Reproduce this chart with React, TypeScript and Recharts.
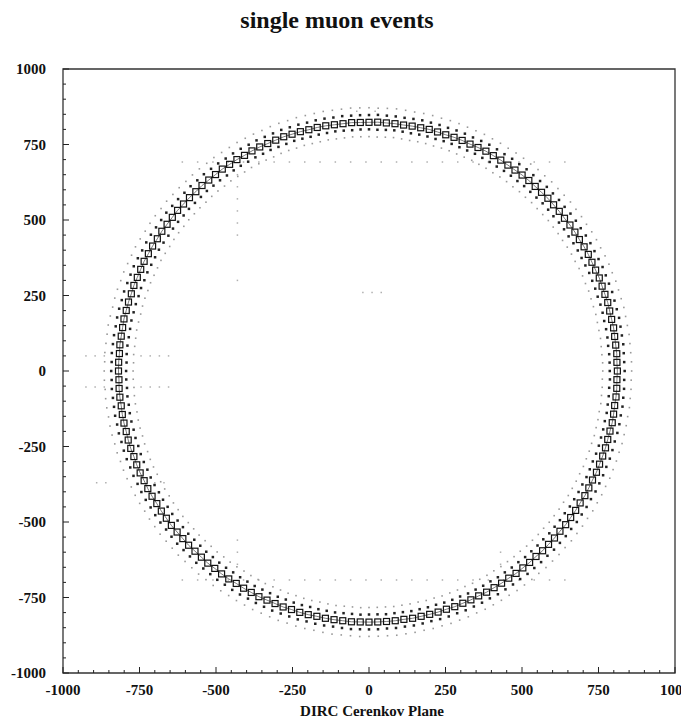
import {
  ScatterChart,
  Scatter,
  XAxis,
  YAxis,
  ReferenceArea,
  RadarChart,
  Radar,
  PolarAngleAxis,
  PolarRadiusAxis,
} from "recharts";

const W = 689;
const H = 728;
const INK = "#222";
const FONT = '"Liberation Serif", "Times New Roman", serif';

// plot box in page pixels
const PLOT_LEFT = 63;
const PLOT_TOP = 69;
const PLOT_RIGHT = 675;
const PLOT_BOTTOM = 673;
const CX = (PLOT_LEFT + PLOT_RIGHT) / 2;
const CY = (PLOT_TOP + PLOT_BOTTOM) / 2;
const R_PX = 304; // 1000 units

const AXIS_TICKS = [
  -1000, -950, -900, -850, -800, -750, -700, -650, -600, -550, -500, -450, -400,
  -350, -300, -250, -200, -150, -100, -50, 0, 50, 100, 150, 200, 250, 300, 350,
  400, 450, 500, 550, 600, 650, 700, 750, 800, 850, 900, 950, 1000,
];
const LABELLED_TICKS = [-1000, -750, -500, -250, 0, 250, 500, 750, 1000];

// ring bins, clockwise from the top, 2 degrees apart
const ANGLES = [
  0, 2, 4, 6, 8, 10, 12, 14, 16, 18, 20, 22, 24, 26, 28, 30, 32, 34, 36, 38,
  40, 42, 44, 46, 48, 50, 52, 54, 56, 58, 60, 62, 64, 66, 68, 70, 72, 74, 76, 78,
  80, 82, 84, 86, 88, 90, 92, 94, 96, 98, 100, 102, 104, 106, 108, 110, 112, 114,
  116, 118, 120, 122, 124, 126, 128, 130, 132, 134, 136, 138, 140, 142, 144, 146,
  148, 150, 152, 154, 156, 158, 160, 162, 164, 166, 168, 170, 172, 174, 176, 178,
  180, 182, 184, 186, 188, 190, 192, 194, 196, 198, 200, 202, 204, 206, 208, 210,
  212, 214, 216, 218, 220, 222, 224, 226, 228, 230, 232, 234, 236, 238, 240, 242,
  244, 246, 248, 250, 252, 254, 256, 258, 260, 262, 264, 266, 268, 270, 272, 274,
  276, 278, 280, 282, 284, 286, 288, 290, 292, 294, 296, 298, 300, 302, 304, 306,
  308, 310, 312, 314, 316, 318, 320, 322, 324, 326, 328, 330, 332, 334, 336, 338,
  340, 342, 344, 346, 348, 350, 352, 354, 356, 358,
];

// radius of the box (square) hits
const RING_R = [
  818, 819, 818, 818, 817, 818, 818, 819, 818, 817, 818, 818, 817, 818, 819, 818, 818, 817, 817, 818,
  818, 817, 817, 818, 817, 817, 816, 817, 817, 816, 817, 817, 816, 816, 817, 816, 816, 817, 816, 816,
  817, 816, 816, 817, 816,
  817, 816, 817, 817, 816, 817, 818, 817, 817, 818, 818, 818, 819, 818, 819, 820, 819, 820, 820, 821,
  820, 821, 821, 822, 821, 822, 822, 823, 822, 823, 823, 824, 823, 824, 824, 825, 824, 825, 825, 825,
  826, 825, 826, 826, 826,
  826, 826, 827, 826, 826, 826, 825, 826, 826, 825, 826, 825, 825, 826, 825, 825, 824, 825, 825, 824,
  825, 824, 824, 825, 824, 824, 825, 824, 824, 823, 824, 824, 823, 824, 824, 823, 824, 824, 823, 824,
  824, 823, 824, 824, 823,
  824, 824, 823, 824, 823, 823, 824, 823, 823, 822, 823, 822, 822, 823, 822, 822, 821, 822, 821, 821,
  822, 821, 821, 820, 821, 820, 820, 821, 820, 820, 819, 820, 820, 819, 819, 820, 819, 819, 818, 819,
  819, 818, 818, 819, 818,
];

// dense dot bins just inside and outside the boxes
const INNER_DARK = [
  795, 794, 795, 796, 795, 794, 795, 795, 794, 795, 795, 794, 794, 795, 794, 794, 793, 794, 794, 793,
  794, 793, 793, 794, 793, 792, 793, 793, 792, 793, 793, 792, 792, 793, 792, 792, 791, 792, 792, 791,
  792, 792, 791, 792, 792,
  792, 793, 792, 793, 793, 794, 793, 794, 794, 795, 795, 794, 795, 796, 795, 796, 796, 797, 796, 797,
  797, 798, 797, 798, 798, 799, 798, 799, 799, 800, 799, 800, 800, 801, 800, 801, 801, 800, 801, 801,
  802, 801, 801, 802, 801,
  801, 802, 801, 801, 802, 801, 801, 800, 801, 801, 800, 801, 800, 800, 801, 800, 800, 799, 800, 800,
  799, 800, 799, 799, 800, 799, 799, 800, 799, 799, 798, 799, 799, 798, 799, 799, 798, 799, 798, 799,
  799, 798, 799, 798, 799,
  799, 798, 799, 799, 798, 798, 799, 798, 798, 797, 798, 797, 798, 797, 797, 798, 797, 796, 797, 797,
  796, 797, 796, 796, 797, 796, 796, 795, 796, 796, 795, 796, 795, 796, 795, 795, 796, 795, 794, 795,
  795, 796, 795, 794, 795,
];
const OUTER_DARK = [
  842, 843, 842, 842, 841, 842, 843, 842, 842, 841, 842, 842, 841, 842, 843, 842, 841, 842, 841, 842,
  841, 841, 842, 841, 841, 840, 841, 841, 840, 841, 841, 840, 840, 841, 840, 840, 841, 840, 840, 841,
  840, 840, 841, 840, 840,
  841, 840, 841, 841, 842, 841, 842, 842, 841, 842, 843, 842, 843, 843, 844, 843, 844, 844, 845, 844,
  845, 845, 846, 845, 846, 846, 847, 846, 847, 847, 848, 847, 848, 848, 849, 848, 849, 849, 848, 849,
  850, 849, 850, 849, 850,
  850, 850, 851, 850, 849, 850, 850, 849, 850, 849, 849, 850, 849, 849, 848, 849, 849, 848, 849, 848,
  848, 849, 848, 848, 849, 848, 847, 848, 848, 847, 848, 848, 847, 848, 847, 848, 848, 847, 848, 847,
  848, 847, 847, 848, 847,
  848, 847, 848, 847, 847, 846, 847, 847, 846, 847, 846, 846, 847, 846, 845, 846, 846, 845, 845, 846,
  845, 845, 844, 845, 844, 845, 844, 844, 843, 844, 844, 843, 844, 843, 843, 844, 843, 843, 842, 843,
  843, 842, 843, 842, 842,
];

// sparse, faint bins at the edges of the band
const INNER_FAINT = [
  771, 770, 771, 772, 771, 770, 771, 771, 770, 771, 771, 770, 770, 771, 770, 770, 769, 770, 770, 769,
  770, 769, 770, 769, 769, 770, 769, 769, 768, 769, 769, 768, 769, 769, 768, 769, 768, 768, 769, 768,
  768, 769, 768, 768, 769,
  769, 768, 769, 769, 770, 769, 770, 770, 771, 770, 771, 771, 772, 771, 772, 772, 773, 772, 773, 773,
  774, 773, 774, 774, 775, 774, 775, 775, 776, 775, 776, 776, 777, 776, 777, 777, 778, 777, 778, 777,
  778, 778, 779, 778, 778,
  778, 779, 778, 778, 779, 778, 777, 778, 778, 777, 778, 777, 777, 778, 777, 777, 776, 777, 777, 776,
  777, 776, 776, 777, 776, 776, 777, 776, 776, 775, 776, 776, 775, 776, 776, 775, 776, 775, 776, 776,
  775, 776, 776, 775, 776,
  776, 775, 776, 775, 775, 776, 775, 774, 775, 775, 774, 775, 774, 774, 775, 774, 773, 774, 774, 773,
  774, 773, 773, 772, 773, 773, 772, 773, 772, 772, 773, 772, 772, 771, 772, 772, 771, 772, 771, 771,
  772, 771, 771, 772, 771,
];
const OUTER_FAINT = [
  866, 865, 866, 867, 866, 865, 866, 866, 865, 866, 866, 865, 865, 866, 865, 865, 864, 865, 865, 864,
  865, 864, 865, 864, 864, 865, 864, 864, 863, 864, 864, 863, 864, 864, 863, 864, 863, 863, 864, 863,
  863, 864, 863, 863, 864,
  864, 863, 864, 864, 865, 864, 865, 865, 866, 865, 866, 866, 867, 866, 867, 867, 868, 867, 868, 868,
  869, 868, 869, 869, 870, 869, 870, 870, 871, 870, 871, 871, 872, 871, 872, 872, 873, 872, 873, 872,
  873, 873, 874, 873, 873,
  873, 874, 873, 873, 874, 873, 872, 873, 873, 872, 873, 872, 872, 873, 872, 872, 871, 872, 872, 871,
  872, 871, 871, 872, 871, 871, 872, 871, 871, 870, 871, 871, 870, 871, 871, 870, 871, 870, 871, 871,
  870, 871, 871, 870, 871,
  871, 870, 871, 870, 870, 871, 870, 869, 870, 870, 869, 870, 869, 869, 870, 869, 868, 869, 869, 868,
  869, 868, 868, 867, 868, 868, 867, 868, 867, 867, 868, 867, 867, 866, 867, 867, 866, 867, 866, 866,
  867, 866, 866, 867, 866,
];

// stray background hits (dotted rows / columns)
const BG_TOP_ROW = [
  [-610, 692], [-560, 692], [-510, 692], [-460, 692], [-410, 692], [-360, 692], [-310, 692],
  [-260, 692], [-210, 692], [-160, 692], [-110, 692], [-60, 692], [-10, 692], [40, 692],
  [90, 692], [140, 692], [190, 692], [240, 692], [290, 692], [340, 692], [390, 692],
  [440, 692], [490, 692], [540, 692], [590, 692], [640, 692],
];
const BG_BOTTOM_ROW = [
  [-610, -692], [-560, -692], [-510, -692], [-460, -692], [-410, -692], [-360, -692],
  [-310, -692], [-260, -692], [-210, -692], [-160, -692], [-110, -692], [-60, -692],
  [-10, -692], [40, -692], [90, -692], [140, -692], [190, -692], [240, -692], [290, -692],
  [340, -692], [390, -692], [440, -692], [490, -692], [540, -692], [590, -692], [640, -692],
];
const BG_COLUMN = [
  [-430, 650], [-430, 610], [-430, 570], [-430, 530], [-430, 490], [-430, 450], [-430, 300],
  [-430, -560], [-430, -600], [-430, -640], [430, -600], [430, -640],
];
const BG_LEFT_ROWS = [
  [-925, 50], [-895, 50], [-865, 50], [-745, 50], [-715, 50], [-685, 50], [-655, 50],
  [-925, -53], [-895, -53], [-865, -53], [-745, -53], [-715, -53], [-685, -53], [-655, -53],
  [-890, -370], [-860, -370], [-700, -370], [-670, -370],
  [-20, 260], [10, 260], [40, 260], [-40, 860], [20, 860],
];

const BG_POINTS = [...BG_TOP_ROW, ...BG_BOTTOM_ROW, ...BG_COLUMN, ...BG_LEFT_ROWS].map(
  ([x, y]) => ({ x, y })
);

const RING_DATA = ANGLES.map((angle, i) => ({
  angle,
  ring: RING_R[i],
  innerDark: INNER_DARK[i],
  outerDark: OUTER_DARK[i],
  innerFaint: INNER_FAINT[i],
  outerFaint: OUTER_FAINT[i],
}));

const boxDot = (p: any) => (
  <rect
    key={`b${p.index}`}
    x={p.cx - 3}
    y={p.cy - 3}
    width={6}
    height={6}
    fill="none"
    stroke="#111"
    strokeWidth={1.2}
  />
);
const darkDot = (p: any) => (
  <rect key={`d${p.index}`} x={p.cx - 1.25} y={p.cy - 1.25} width={2.5} height={2.5} fill="#222" />
);
const faintDot = (p: any) => (
  <rect key={`f${p.index}`} x={p.cx - 0.8} y={p.cy - 0.8} width={1.6} height={1.6} fill="#999" />
);

const XTick = (props: any) => {
  const { x, y, payload } = props;
  const major = LABELLED_TICKS.includes(payload.value);
  return (
    <g>
      <line x1={x} y1={y} x2={x} y2={y - (major ? 6 : 3)} stroke={INK} strokeWidth={1} />
      {major && (
        <text x={x} y={y + 22} textAnchor="middle" fontFamily={FONT} fontWeight="bold" fontSize={15} fill="#111">
          {payload.value}
        </text>
      )}
    </g>
  );
};

const YTick = (props: any) => {
  const { x, y, payload } = props;
  const major = LABELLED_TICKS.includes(payload.value);
  return (
    <g>
      <line x1={x} y1={y} x2={x + (major ? 6 : 3)} y2={y} stroke={INK} strokeWidth={1} />
      {major && (
        <text x={x - 17} y={y + 5} textAnchor="end" fontFamily={FONT} fontWeight="bold" fontSize={15} fill="#111">
          {payload.value}
        </text>
      )}
    </g>
  );
};

export default function App() {
  return (
    <div style={{ position: "relative", width: W, height: H, margin: -8, background: "#fff" }}>
      <div
        style={{
          position: "absolute",
          left: 237,
          top: 7,
          width: 200,
          textAlign: "center",
          fontFamily: FONT,
          fontWeight: "bold",
          fontSize: 24,
          whiteSpace: "nowrap",
          color: "#111",
        }}
      >
        single muon events
      </div>

      <div style={{ position: "absolute", left: 0, top: 0 }}>
        <ScatterChart
          width={W}
          height={H}
          margin={{
            top: PLOT_TOP,
            left: PLOT_LEFT - 1,
            right: W - PLOT_RIGHT,
            bottom: H - PLOT_BOTTOM - 1,
          }}
        >
          <XAxis
            type="number"
            dataKey="x"
            domain={[-1000, 1000]}
            ticks={AXIS_TICKS}
            interval={0}
            height={1}
            tickSize={0}
            tickMargin={0}
            tickLine={false}
            axisLine={false}
            tick={<XTick />}
            allowDataOverflow
          />
          <YAxis
            type="number"
            dataKey="y"
            domain={[-1000, 1000]}
            ticks={AXIS_TICKS}
            interval={0}
            width={1}
            tickSize={0}
            tickMargin={0}
            tickLine={false}
            axisLine={false}
            tick={<YTick />}
            allowDataOverflow
          />
          <ReferenceArea
            x1={-1000}
            x2={1000}
            y1={-1000}
            y2={1000}
            fill="none"
            stroke="#333"
            strokeWidth={1.3}
            ifOverflow="visible"
          />
          <Scatter
            data={BG_POINTS}
            isAnimationActive={false}
            shape={(p: any) => (
              <rect x={p.cx - 0.75} y={p.cy - 0.75} width={1.5} height={1.5} fill="#b0b0b0" />
            )}
          />
        </ScatterChart>
      </div>

      <div style={{ position: "absolute", left: 0, top: 0 }}>
        <RadarChart
          width={W}
          height={H}
          data={RING_DATA}
          cx={CX}
          cy={CY}
          outerRadius={R_PX}
          margin={{ top: 0, right: 0, bottom: 0, left: 0 }}
        >
          <PolarAngleAxis dataKey="angle" tick={false} axisLine={false} tickLine={false} />
          <PolarRadiusAxis type="number" domain={[0, 1000]} tick={false} axisLine={false} />
          <Radar dataKey="outerFaint" stroke="none" fill="none" dot={faintDot} isAnimationActive={false} />
          <Radar dataKey="innerFaint" stroke="none" fill="none" dot={faintDot} isAnimationActive={false} />
          <Radar dataKey="outerDark" stroke="none" fill="none" dot={darkDot} isAnimationActive={false} />
          <Radar dataKey="innerDark" stroke="none" fill="none" dot={darkDot} isAnimationActive={false} />
          <Radar
            dataKey="ring"
            stroke="#444"
            strokeWidth={0.7}
            fill="none"
            dot={boxDot}
            isAnimationActive={false}
          />
        </RadarChart>
      </div>

      <div
        style={{
          position: "absolute",
          left: 272,
          top: 703,
          width: 200,
          textAlign: "center",
          fontFamily: FONT,
          fontWeight: "bold",
          fontSize: 15,
          lineHeight: "16px",
          whiteSpace: "nowrap",
          color: "#111",
        }}
      >
        DIRC Cerenkov Plane
      </div>
    </div>
  );
}
